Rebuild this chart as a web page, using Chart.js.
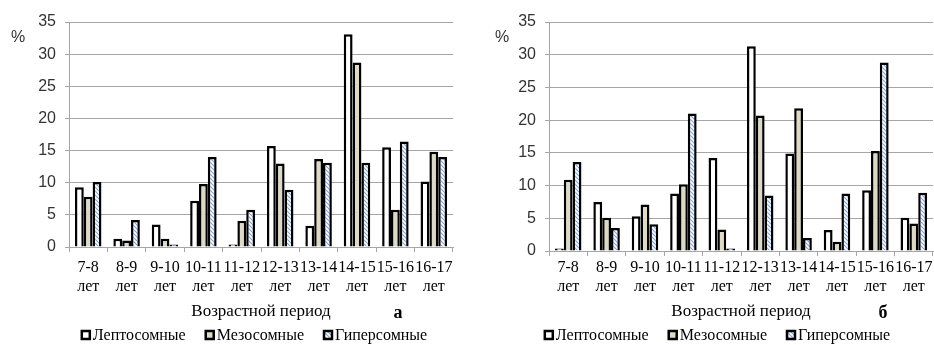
<!DOCTYPE html>
<html><head><meta charset="utf-8">
<script src="https://cdn.jsdelivr.net/npm/chart.js@4"></script>
<style>
html,body{margin:0;padding:0;background:#fff;}
#wrap{position:relative;width:934px;height:345px;overflow:hidden;}
.c{position:absolute;top:0;width:467px;height:345px;}
</style></head><body>
<div id="wrap">
<div class="c" style="left:0"><canvas id="a" width="467" height="345"></canvas></div>
<div class="c" style="left:467px"><canvas id="b" width="467" height="345"></canvas></div>
</div>
<script>
const categories = [['7-8','лет'],['8-9','лет'],['9-10','лет'],['10-11','лет'],['11-12','лет'],['12-13','лет'],['13-14','лет'],['14-15','лет'],['15-16','лет'],['16-17','лет']];
const seriesNames = ['Лептосомные','Мезосомные','Гиперсомные'];
const leptoA = [9.3,1.3,3.5,7.2,0.4,15.7,3.3,33.1,15.5,10.2];
const mesoA  = [7.8,1.0,1.3,9.8,4.1,13.0,13.7,28.7,5.8,14.8];
const hyperA = [10.1,4.2,0.4,14.0,5.8,8.9,13.1,13.1,16.4,14.0];
const leptoB = [0.4,7.5,5.3,8.8,14.2,31.3,14.9,3.2,9.3,5.1];
const mesoB  = [10.9,5.1,7.1,10.2,3.3,20.7,21.8,1.4,15.3,4.2];
const hyperB = [13.6,3.5,4.1,21.0,0.4,8.5,2.0,8.8,28.8,8.9];
const yMin = 0, yMax = 35, yStep = 5;
const xTitle = 'Возрастной период';
const yUnit = '%';
const panelLetters = ['а','б'];

const GRID = '#a6a6a6';
const MESO = '#ddd9c3';
const SERIF = '"Liberation Serif", "Times New Roman", serif';
const SANS = '"Liberation Sans", Arial, sans-serif';

function hatch(){
  const c=document.createElement('canvas');c.width=c.height=4;
  const x=c.getContext('2d');
  x.fillStyle='#fff';x.fillRect(0,0,4,4);
  x.strokeStyle='#7fa3d6';x.lineWidth=1.1;
  x.beginPath();
  x.moveTo(-1,-1);x.lineTo(5,5);
  x.moveTo(-1,3);x.lineTo(1,5);
  x.moveTo(3,-1);x.lineTo(5,1);
  x.stroke();
  return x.createPattern(c,'repeat');
}
const HATCH = hatch();
const fills = ['#ffffff', MESO, HATCH];

function makeChart(id, series, cfg){
  const extras = {
    id:'extras',
    afterDraw(chart){
      const ctx = chart.ctx;
      ctx.save();
      ctx.fillStyle='#333';
      ctx.font='16px '+SANS;
      ctx.textAlign='center';ctx.textBaseline='middle';
      ctx.fillText(yUnit, cfg.pctX, 38);
      ctx.fillStyle='#000';
      ctx.font='bold 18px '+SERIF;
      ctx.fillText(cfg.letter, cfg.letterX, 313);
      // legend
      ctx.font='16px '+SERIF;
      ctx.textAlign='left';
      const box=8, gapT=3, gapI=20;
      const widths = seriesNames.map(n=>box+gapT+ctx.measureText(n).width);
      const total = widths.reduce((a,b)=>a+b,0)+gapI*(seriesNames.length-1);
      let x = cfg.legendCenter - total/2;
      const y = 335;
      seriesNames.forEach((n,i)=>{
        ctx.fillStyle=fills[i];
        ctx.fillRect(x, y-box/2, box, box);
        ctx.strokeStyle='#000';ctx.lineWidth=2.5;
        ctx.strokeRect(x, y-box/2, box, box);
        ctx.fillStyle='#000';
        ctx.fillText(n, x+box+gapT, y+1);
        x += widths[i]+gapI;
      });
      ctx.restore();
    }
  };
  return new Chart(document.getElementById(id), {
    type:'bar',
    data:{
      labels: categories,
      datasets: series.map((d,i)=>({
        label: seriesNames[i], data: d,
        backgroundColor: fills[i], borderColor:'#000', borderWidth:2.5,
        categoryPercentage:0.69, barPercentage:1.0
      }))
    },
    options:{
      responsive:false, animation:false,
      layout:{padding:{top:22,right:cfg.padRight,left:0,bottom:20}},
      plugins:{legend:{display:false},tooltip:{enabled:false}},
      scales:{
        x:{
          grid:{display:true,drawOnChartArea:false,drawTicks:true,tickLength:5,color:GRID,offset:true},
          border:{color:GRID,width:1},
          ticks:{maxRotation:0,minRotation:0,autoSkip:false,color:'#000',
            font:{family:SERIF,size:16,lineHeight:1.2},padding:cfg.tickPad},
          title:{display:true,text:xTitle,color:'#000',font:{family:SERIF,size:17,lineHeight:1.2},padding:{top:0,bottom:3}},
          afterFit(s){ s.height = cfg.xH; s.paddingLeft=0; s.paddingRight=0; }
        },
        y:{
          min:yMin,max:yMax,
          grid:{color:GRID,tickLength:4,drawTicks:true},
          border:{color:GRID,width:1},
          ticks:{stepSize:yStep,color:'#333',font:{family:SANS,size:16},padding:9},
          afterFit(s){ s.width = cfg.yW; s.paddingTop=0; s.paddingBottom=0; }
        }
      }
    },
    plugins:[extras]
  });
}

makeChart('a',[leptoA,mesoA,hyperA],{padRight:14,yW:69,xH:78,tickPad:6,pctX:18,letter:panelLetters[0],letterX:398,legendCenter:254.5});
makeChart('b',[leptoB,mesoB,hyperB],{padRight:1,yW:82,xH:74,tickPad:2,pctX:35,letter:panelLetters[1],letterX:416,legendCenter:250.5});
</script>
</body></html>
